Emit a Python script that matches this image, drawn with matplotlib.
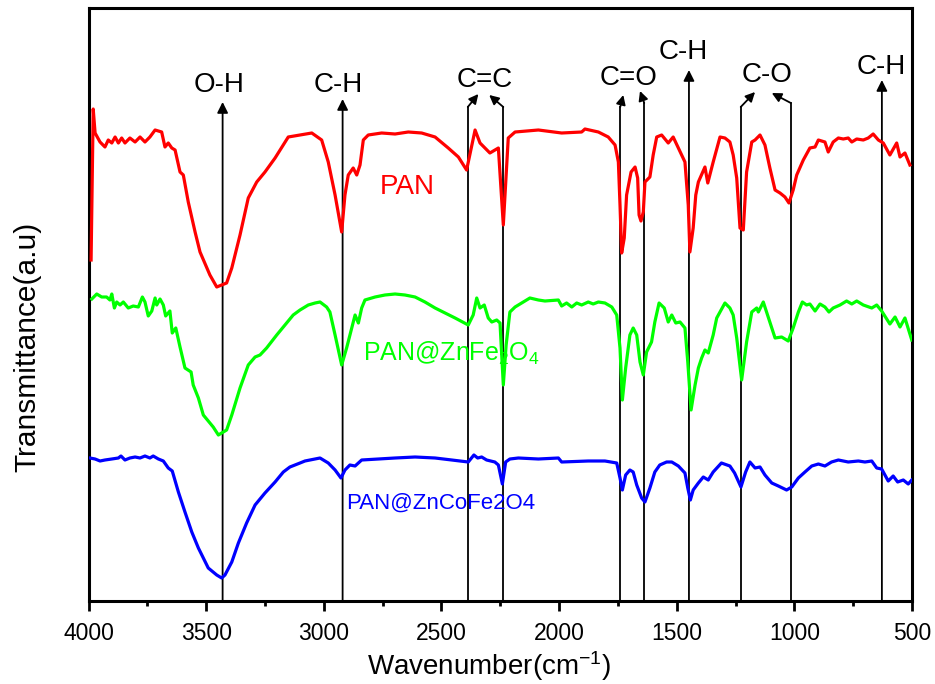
import matplotlib
matplotlib.use("Agg")
import matplotlib.pyplot as plt
from matplotlib.ticker import MultipleLocator

plt.rcParams['font.family'] = ['Liberation Sans', 'DejaVu Sans']
plt.rcParams['mathtext.fontset'] = 'custom'
plt.rcParams['mathtext.rm'] = 'Liberation Sans'
plt.rcParams['mathtext.it'] = 'Liberation Sans:italic'
plt.rcParams['mathtext.bf'] = 'Liberation Sans:bold'

# ---------------- data ----------------
pan_wn = [3989,3980,3972,3951,3930,3916,3901,3887,3873,3859,3845,3824,3802,3781,3760,3739,3717,3689,3675,3661,
          3646,3632,3611,3597,3576,3547,3526,3484,3455,3434,3413,3391,3356,3321,3285,3250,3207,3172,3151,3101,
          3051,3009,2981,2952,2924,2910,2896,2875,2860,2846,2832,2811,2754,2697,2641,2584,2527,2471,2428,2393,
          2357,2336,2294,2258,2237,2216,2187,2088,1989,1904,1890,1833,1791,1762,1748,1741,1734,1723,1713,1694,
          1677,1666,1660,1652,1642,1635,1614,1600,1585,1564,1536,1515,1493,1465,1451,1444,1430,1419,1408,1380,
          1368,1345,1316,1295,1274,1260,1245,1231,1217,1203,1181,1167,1146,1125,1104,1082,1061,1040,1023,1005,
          990,962,934,912,898,870,856,835,813,792,771,756,735,707,686,665,643,622,594,565,551,530,509]
pan_t = [34.1,49.2,46.8,45.9,45.4,46.1,45.8,46.4,45.8,46.3,45.8,46.3,45.9,46.4,45.9,46.4,47.1,46.9,45.4,45.8,
         45.3,45.1,42.9,42.6,39.9,36.9,34.9,32.6,31.4,31.6,31.8,33.3,36.6,40.3,41.9,42.9,44.3,45.6,46.4,46.6,
         46.8,46.1,43.9,40.6,36.9,40.6,42.6,43.3,42.6,43.6,46.1,46.6,46.8,46.7,46.9,46.8,46.4,45.3,44.4,43.1,
         47.1,45.8,44.8,45.3,37.6,46.3,46.9,47.1,46.8,46.9,47.2,46.9,46.4,45.6,43.9,39.6,34.8,36.3,40.6,42.9,
         43.4,42.3,38.6,38.0,38.9,41.9,42.4,44.6,46.4,46.6,45.8,46.4,45.3,43.9,39.6,34.9,37.3,40.6,41.9,43.4,
         41.8,43.9,46.4,46.3,45.9,44.6,42.3,37.3,37.1,42.9,45.9,46.1,46.6,45.6,43.3,41.1,40.8,40.4,39.8,41.1,
         42.6,44.1,45.3,45.4,46.1,45.9,44.9,45.9,46.3,46.2,46.3,45.9,46.2,46.1,46.3,46.7,46.1,45.8,44.6,45.8,
         44.4,44.8,43.6]

znfe_wn = [3986,3965,3944,3923,3909,3901,3890,3880,3866,3852,3831,3810,3788,3771,3760,3746,3731,3717,3710,3696,
           3682,3672,3654,3644,3629,3611,3590,3564,3555,3533,3512,3470,3448,3427,3413,3391,3356,3321,3292,3271,
           3243,3200,3165,3130,3101,3066,3037,3016,2988,2974,2952,2924,2903,2881,2867,2853,2839,2825,2782,2740,
           2697,2655,2612,2570,2527,2485,2442,2386,2365,2350,2336,2318,2301,2286,2265,2251,2237,2225,2209,2187,
           2159,2124,2088,2060,2003,1989,1968,1946,1925,1904,1876,1855,1833,1805,1776,1755,1741,1731,1717,1699,
           1685,1670,1656,1642,1628,1607,1593,1575,1553,1536,1521,1504,1486,1465,1453,1439,1422,1408,1394,1380,
           1366,1345,1330,1316,1295,1274,1260,1245,1224,1203,1181,1160,1153,1132,1104,1082,1054,1026,1005,983,
           966,948,934,912,891,870,853,835,806,778,756,735,707,671,650,629,594,572,551,530,501]
znfe_t = [30.2,30.7,30.4,30.4,30.1,30.7,29.3,29.9,29.6,29.9,29.3,29.5,29.4,30.4,29.9,28.5,29.0,30.3,29.6,30.2,
          29.6,28.5,29.0,26.8,27.3,25.4,23.3,22.9,21.6,20.3,18.6,17.4,16.6,16.9,17.1,18.6,21.3,23.6,24.4,24.6,
          25.3,26.6,27.6,28.6,29.1,29.6,29.8,29.9,29.4,28.9,26.6,23.6,25.3,27.3,28.6,27.8,29.3,30.1,30.4,30.6,
          30.7,30.6,30.4,29.9,29.3,28.8,28.3,27.6,28.6,30.3,29.3,29.6,28.3,27.9,28.1,27.8,21.6,25.6,28.9,29.4,
          29.8,30.3,30.1,30.0,30.1,29.5,29.8,29.4,29.8,29.6,29.9,29.7,29.9,29.8,29.4,28.6,25.3,20.1,23.3,26.6,
          27.3,26.6,23.9,22.6,24.9,25.9,27.9,29.8,29.3,27.9,28.6,27.8,27.9,27.3,23.9,19.1,21.6,23.3,24.3,25.1,
          24.8,26.6,28.3,28.9,29.8,29.3,28.6,26.3,22.1,25.9,28.9,29.3,28.9,29.9,27.9,26.3,26.4,26.0,27.3,28.9,
          29.9,29.6,29.7,29.0,29.7,29.4,28.9,29.3,29.6,30.0,29.7,30.0,29.6,29.3,29.6,29.0,27.7,28.4,27.4,28.3,
          26.1]

znco_wn = [3994,3972,3951,3930,3901,3873,3862,3845,3824,3802,3781,3760,3739,3725,3703,3682,3661,3644,3618,3590,
           3561,3533,3491,3455,3434,3420,3391,3363,3328,3292,3250,3207,3172,3144,3101,3080,3016,2981,2952,2927,
           2910,2889,2867,2839,2768,2697,2612,2527,2456,2386,2362,2346,2329,2308,2273,2258,2241,2227,2209,2173,
           2088,2003,1989,1876,1805,1755,1741,1731,1717,1699,1685,1670,1649,1635,1614,1593,1572,1543,1521,1493,
           1465,1453,1442,1430,1408,1387,1366,1345,1310,1274,1254,1227,1207,1189,1167,1146,1125,1096,1068,1033,
           1011,983,955,926,898,870,842,813,771,728,700,671,650,629,601,580,561,537,516,501]
znco_t = [14.3,14.2,14.0,14.1,14.2,14.3,14.5,14.1,14.3,14.4,14.3,14.5,14.3,14.5,14.2,14.0,13.3,13.0,10.9,8.9,
          6.9,5.3,3.3,2.6,2.3,2.6,3.9,5.8,7.8,9.6,10.8,11.9,12.9,13.4,13.8,14.0,14.3,13.8,13.1,12.3,
          13.1,13.6,13.5,14.1,14.2,14.3,14.4,14.3,14.1,13.9,14.6,14.3,14.4,14.1,13.9,13.6,11.7,13.9,14.2,14.3,
          14.2,14.3,13.9,14.0,14.0,13.8,12.3,11.1,12.6,13.1,12.9,11.6,10.3,9.9,11.3,12.9,13.6,13.9,13.9,13.5,
          12.8,11.3,10.1,11.1,11.8,12.4,12.1,12.9,13.8,13.5,12.8,11.4,12.9,13.9,13.3,13.4,12.6,11.8,11.5,11.1,
          11.4,12.3,12.9,13.5,13.7,13.5,13.9,14.1,13.9,14.0,13.9,14.0,13.3,13.2,12.0,12.5,11.9,12.1,11.7,12.1]

# band marker lines: base position, top of the line, arrow tip
band_wn  = [3430, 2920, 2388, 2237, 1740, 1638, 1448, 1228, 1015, 628]
band_top = [49.9, 50.2, 49.4, 49.4, 49.4, 49.8, 53.1, 49.4, 49.8, 52.1]
tip_wn   = [3430, 2920, 2343, 2297, 1727, 1656, 1448, 1167, 1096, 628]
tip_t    = [49.9, 50.2, 50.7, 50.6, 50.6, 51.0, 53.1, 50.9, 50.8, 52.1]

label_text = ['O-H', 'C-H', 'C=C', 'C=O', 'C-H', 'C-O', 'C-H']
label_wn   = [3445, 2940, 2315, 1704, 1473, 1114, 629]
label_t    = [51.6, 51.6, 52.1, 52.3, 54.9, 52.6, 53.4]

series_names = ['PAN', r'PAN@ZnFe$_2$O$_4$', 'PAN@ZnCoFe2O4']
series_colors = ['#FF0000', '#00FF00', '#0000FF']
name_wn = [2646, 2833, 2906]
name_t = [41.4, 24.8, 9.8]

xticks = [4000, 3500, 3000, 2500, 2000, 1500, 1000, 500]

# ---------------- figure ----------------
W, H = 935, 684
fig = plt.figure(figsize=(W / 100, H / 100), dpi=100)
ax = fig.add_axes([88.5 / W, (H - 601) / H, (912 - 88.5) / W, (601 - 8) / H])

# annotation lines
for w, top, tw, tt in zip(band_wn, band_top, tip_wn, tip_t):
    if tw == w and tt == top:
        ax.annotate('', xy=(tw, tt), xytext=(w, 0),
                    arrowprops=dict(arrowstyle='-|>', color='black', lw=1.3,
                                    mutation_scale=16, shrinkA=0, shrinkB=0), zorder=1)
    else:
        ax.plot([w, w], [0, top], color='black', lw=1.3, zorder=1)
        ax.annotate('', xy=(tw, tt), xytext=(w, top),
                    arrowprops=dict(arrowstyle='-|>', color='black', lw=1.3,
                                    mutation_scale=14, shrinkA=0, shrinkB=0), zorder=1)

for txt, w, t in zip(label_text, label_wn, label_t):
    ax.text(w, t, txt, fontsize=20, ha='center', va='center', color='black')

for x, y, c in zip([pan_wn, znfe_wn, znco_wn], [pan_t, znfe_t, znco_t], series_colors):
    ax.plot(x, y, color=c, lw=2.3, zorder=3)

ax.text(name_wn[0], name_t[0], series_names[0], color=series_colors[0], fontsize=20,
        ha='center', va='center')
ax.text(name_wn[1], name_t[1], series_names[1], color=series_colors[1], fontsize=18,
        ha='left', va='center')
ax.text(name_wn[2], name_t[2], series_names[2], color=series_colors[2], fontsize=16,
        ha='left', va='center')

ax.set_xlim(4000, 500)
ax.set_ylim(0, 59.3)
ax.set_xticks(xticks)
ax.set_xticklabels([str(v) for v in xticks])
ax.xaxis.set_minor_locator(MultipleLocator(250))
ax.set_yticks([])
ax.tick_params(axis='x', which='major', direction='out', length=7, width=2, labelsize=16.5, pad=8)
ax.tick_params(axis='x', which='minor', direction='out', length=3.5, width=2)
ax.tick_params(top=False, right=False, left=False)
for s in ax.spines.values():
    s.set_linewidth(2.2)

ax.set_xlabel(r'Wavenumber(cm$^{\mathregular{-1}}$)', fontsize=20, va='center')
ax.xaxis.set_label_coords(0.486, (601 - 666) / 593)
ax.set_ylabel('Transmittance(a.u)', fontsize=21.5, va='center')
ax.yaxis.set_label_coords((27 - 88.5) / 823.5, 0.428)

fig.savefig('out.png', dpi=100)
